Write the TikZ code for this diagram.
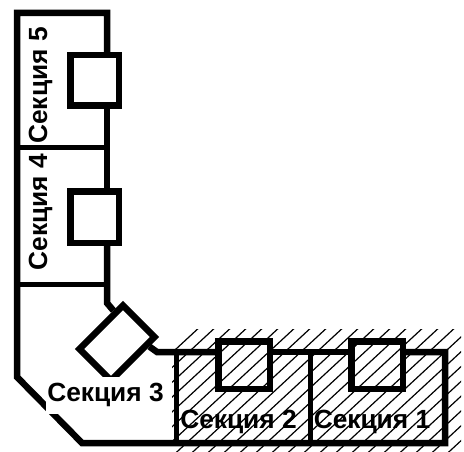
\documentclass[tikz,border=0pt]{standalone}
\usepackage{fontspec}
\setmainfont{Liberation Sans}
\usetikzlibrary{calc}

\begin{document}
\begin{tikzpicture}[x=1pt, y=-1pt,
        wall_style/.style={draw=black, line width=6.5pt, line cap=square, line join=miter},
        partition_style/.style={draw=black, line width=5pt},
        hatch_style/.style={draw=black, line width=1.2pt},
        box_style/.style={rectangle, draw=black, line width=6.5pt, inner sep=0pt, minimum width=#1},
        label_style/.style={font=\bfseries\fontsize{26.3pt}{28pt}\selectfont, inner sep=0pt},
        cover_style/.style={label_style, fill=white, inner xsep=1pt, inner ysep=1.5pt}]

        \useasboundingbox (0,0) rectangle (464,452);

        % hatching
        \begin{scope}
            \clip (172,329) rectangle (461,452);
            \foreach \k in {0,...,26} {
                \draw [hatch_style] (16*\k,512) -- (216+16*\k,312);
            }
        \end{scope}

        % windows
        \node [box_style=48.5pt, minimum height=50.5pt](box5) at (94.5,80.5) {};
        \node [box_style=48.5pt, minimum height=51.5pt](box4) at (94.5,217) {};
        \node [box_style=51.5pt, minimum height=47.5pt](box2) at (244,365) {};
        \node [box_style=51.5pt, minimum height=47.5pt](box1) at (377,365) {};
        \node [box_style=61.5pt, minimum height=44.5pt, rotate=45](box3) at (117,343) {};

        % outline
        \coordinate (c1) at (107,13);
        \coordinate (c2) at (17,13);
        \coordinate (c3) at (17,377);
        \coordinate (c4) at (82,443);
        \coordinate (c5) at (445,443);
        \coordinate (c6) at (445,352);
        \coordinate (c7) at (107,303);
        \coordinate (c8) at (157,352);
        \draw [wall_style] (box5.north -| c1) -- (c1) -- (c2) -- (c3) -- (c4) -- (c5) -- (c6) -- (box1.east |- c6);
        \draw [wall_style, line cap=butt] (box5.south -| c1) -- (box4.north -| c1);
        \draw [wall_style, line cap=butt] (box4.south -| c1) -- (c7) -- ($(box3.north east)!0.2!(box3.north west)$);
        \draw [wall_style, line cap=butt] ($(box3.south east)!0.2!(box3.south west)$) -- (c8) -- (box2.west |- c8);
        \draw [wall_style, line cap=butt] (box2.east |- c8) -- (box1.west |- c8);

        % partitions
        \coordinate (p1) at (17,148);
        \coordinate (p2) at (107,148);
        \coordinate (p3) at (17,284);
        \coordinate (p4) at (107,284);
        \coordinate (p5) at (176,352);
        \coordinate (p6) at (176,443);
        \coordinate (p7) at (310,352);
        \coordinate (p8) at (310,443);
        \draw [partition_style] (p1) -- (p2);
        \draw [partition_style] (p3) -- (p4);
        \draw [partition_style] (p5) -- (p6);
        \draw [partition_style] (p7) -- (p8);

        % labels
        \node [cover_style, rotate=90](sec5) at (40.5,85.5) {Секция 5};
        \node [cover_style, rotate=90](sec4) at (40.5,212) {Секция 4};
        \node [cover_style, minimum height=37pt](sec3) at (105.5,395) {Секция 3};
        \node [label_style](sec2) at (238.5,421.5) {Секция 2};
        \node [label_style](sec1) at (372,421.5) {Секция 1};
\end{tikzpicture}
\end{document}
